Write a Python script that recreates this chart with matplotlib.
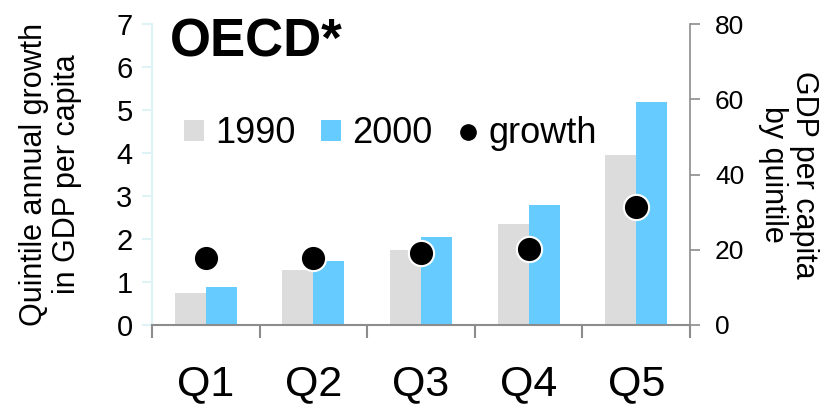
import matplotlib
matplotlib.use("Agg")
import matplotlib.pyplot as plt
import numpy as np
from matplotlib.lines import Line2D
from matplotlib.patches import Patch

plt.rcParams['font.family'] = ['Liberation Sans', 'DejaVu Sans']

categories = ["Q1", "Q2", "Q3", "Q4", "Q5"]
gdp_1990 = [8.6, 14.6, 20.0, 26.9, 45.2]
gdp_2000 = [10.1, 17.0, 23.5, 31.9, 59.2]
growth = [1.55, 1.55, 1.67, 1.76, 2.74]
left_ticks = [0, 1, 2, 3, 4, 5, 6, 7]
right_ticks = [0, 20, 40, 60, 80]

gray = "#dcdcdc"
blue = "#66ccff"
spine_cyan = "#dff3f7"
spine_gray = "#8c8c8c"

fig = plt.figure(figsize=(8.27, 4.04), dpi=100)
ax = fig.add_axes([152/827, 1-325/404, (690-152)/827, (325-24)/404])
ax2 = ax.twinx()

x = np.arange(len(categories))
w = 0.288
ax2.bar(x - w/2, gdp_1990, width=w, color=gray, zorder=2)
ax2.bar(x + w/2, gdp_2000, width=w, color=blue, zorder=2)
ax2.set_ylim(0, 80)
ax2.set_yticks(right_ticks)

ax.scatter(x, growth, s=330, color="black", edgecolors="white", linewidths=1.5, zorder=5)
ax.set_ylim(0, 7)
ax.set_yticks(left_ticks)
ax.set_xlim(-0.5, 4.5)

ax.set_zorder(ax2.get_zorder() + 1)
ax.patch.set_visible(False)

# spines
for a in (ax, ax2):
    a.spines['top'].set_visible(False)
ax.spines['right'].set_visible(False)
ax2.spines['left'].set_visible(False)
ax2.spines['bottom'].set_visible(False)
ax.spines['left'].set_color(spine_cyan)
ax.spines['left'].set_linewidth(1.5)
ax.spines['bottom'].set_color(spine_gray)
ax.spines['bottom'].set_linewidth(1.5)
ax2.spines['right'].set_color(spine_gray)
ax2.spines['right'].set_linewidth(1.2)

ax.tick_params(axis='y', colors=spine_cyan, labelcolor='black', labelsize=21, length=7, width=1.5, pad=7)
ax2.tick_params(axis='y', colors=spine_gray, labelcolor='black', labelsize=19, length=7, width=1.2, pad=11)

# x axis: boundary ticks (minor), labels at centres
ax.set_xticks(x)
ax.set_xticklabels(categories, fontsize=31)
ax.set_xticks(np.arange(-0.5, 5.0, 1.0), minor=True)
ax.tick_params(axis='x', which='major', length=0, pad=28)
ax.tick_params(axis='x', which='minor', length=9, width=1.5, color=spine_gray)

ax.set_ylabel("Quintile annual growth\nin GDP per capita", fontsize=22, linespacing=1.12, labelpad=25)
ax2.set_ylabel("GDP per capita\nby quintile", fontsize=22, rotation=270, linespacing=1.05, labelpad=54)

ax.text(0.033, 0.94, "OECD*", transform=ax.transAxes, fontsize=38, fontweight='bold', va='center', ha='left')

handles = [
    Patch(facecolor=gray, edgecolor='none'),
    Patch(facecolor=blue, edgecolor='none'),
    Line2D([], [], marker='o', color='black', linestyle='none', markersize=11),
]
leg = ax.legend(handles, ["1990", "2000", "growth"], loc='center left', bbox_to_anchor=(0.06, 0.635),
                ncol=3, frameon=False, fontsize=26, handlelength=0.55, handleheight=0.55,
                handletextpad=0.3, columnspacing=0.72, borderpad=0, borderaxespad=0)

fig.savefig("out.png", dpi=100)
